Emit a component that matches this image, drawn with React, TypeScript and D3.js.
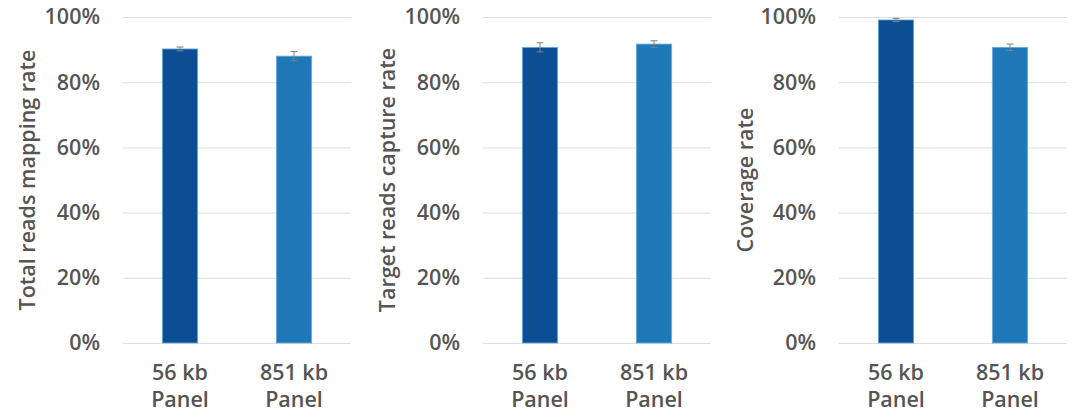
import * as d3 from "d3";
import React, { useRef, useEffect } from 'react'

const categories = ["56 kb|Panel", "851 kb|Panel"]
const panelTitles = ["Total reads mapping rate", "Target reads capture rate", "Coverage rate"]
const mappingRate = [0.902, 0.880]
const mappingErr = [0.006, 0.014]
const captureRate = [0.907, 0.917]
const captureErr = [0.014, 0.010]
const coverageRate = [0.991, 0.907]
const coverageErr = [0.005, 0.010]
const yTicks = [0, 0.2, 0.4, 0.6, 0.8, 1.0]

const panelValues = [mappingRate, captureRate, coverageRate]
const panelErrors = [mappingErr, captureErr, coverageErr]

const W = 1080
const H = 419
const mt = 17
const mb = 343
const plotLefts = [123, 483, 839]
const plotW = 228
const barColors = ["#0c4e93", "#1f79b9"]
const textColor = "#555555"
const font = "'Open Sans', 'Noto Sans', sans-serif"
const weight = 550

type PanelProps = { title: string, values: number[], errors: number[], left: number, offset: number }

const Panel: React.FC<PanelProps> = ({ title, values, errors, left, offset }) => {
  const gy = useRef<SVGGElement>(null)

  const x = d3.scaleBand<string>().domain(categories).range([left, left + plotW]).paddingInner(0.69).paddingOuter(0.345)
  const y = d3.scaleLinear([0, 1], [mb, mt])

  useEffect(() => {
    if (!gy.current) return
    const g = d3.select(gy.current)
    g.call(d3.axisLeft(y).tickValues(yTicks).tickSize(-plotW).tickPadding(23).tickFormat(d3.format(".0%")) as any)
    g.select(".domain").remove()
    g.attr("font-size", null).attr("font-family", null)
    g.selectAll(".tick line").attr("stroke", "#dedede").attr("stroke-width", 1)
    g.selectAll(".tick text").attr("fill", textColor).style("font-size", "21.5px").style("font-family", font).style("font-weight", weight)
  }, [gy, y])

  return (
    <g>
      <g ref={gy} transform={`translate(${left}, 0)`} />
      <text
        transform={`translate(${offset + 35}, ${(mt + mb) / 2}) rotate(-90)`}
        textAnchor="middle"
        fill={textColor}
        style={{ fontSize: "21.5px", fontFamily: font, fontWeight: weight }}
      >{title}</text>
      {categories.map((c, i) => {
        const cx = (x(c) || 0) + x.bandwidth() / 2
        const v = values[i]
        const e = errors[i]
        return (
          <g key={c}>
            <rect
              x={x(c)}
              y={y(v)}
              width={x.bandwidth()}
              height={mb - y(v)}
              fill={barColors[i]}
              stroke="#6aaede"
              strokeWidth={0.8}
            />
            <line x1={cx} x2={cx} y1={y(v + e)} y2={y(v - e)} stroke="#808080" strokeWidth={1} />
            <line x1={cx - 3.5} x2={cx + 3.5} y1={y(v + e)} y2={y(v + e)} stroke="#808080" strokeWidth={1} />
            <line x1={cx - 3.5} x2={cx + 3.5} y1={y(v - e)} y2={y(v - e)} stroke="#808080" strokeWidth={1} />
            {c.split("|").map((line, j) => (
              <text
                key={line}
                x={cx}
                y={380 + j * 27}
                textAnchor="middle"
                fill={textColor}
                style={{ fontSize: "21.5px", fontFamily: font, fontWeight: weight }}
              >{line}</text>
            ))}
          </g>
        )
      })}
    </g>
  )
}

const App: React.FC = () => {
  return (
    <svg width={W} height={H} style={{ position: "absolute", left: 0, top: 0, background: "white" }}>
      {panelTitles.map((t, i) => (
        <Panel key={t} title={t} values={panelValues[i]} errors={panelErrors[i]} left={plotLefts[i]} offset={i * 360 - (i === 2 ? 2 : 0)} />
      ))}
    </svg>
  )
}

export default App
